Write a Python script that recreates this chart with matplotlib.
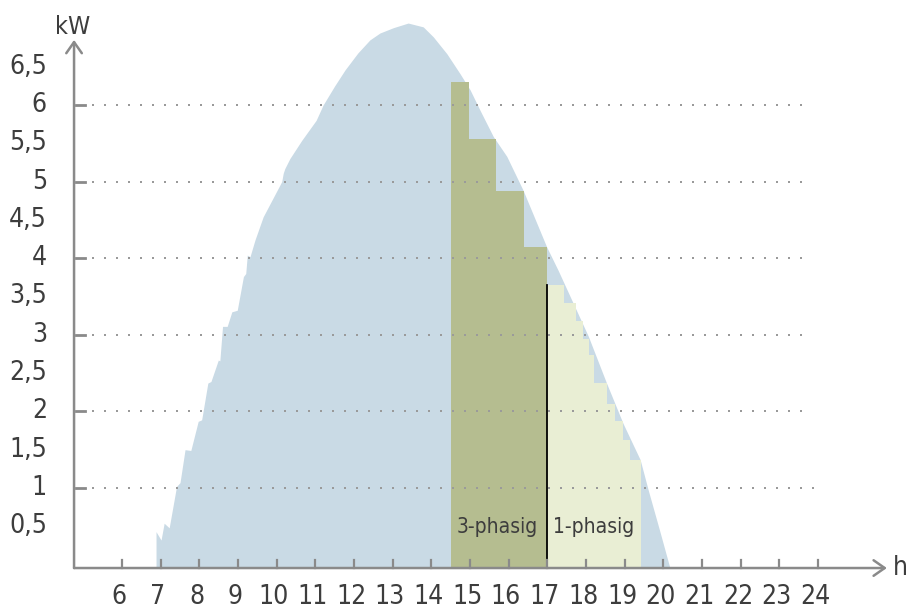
import matplotlib
matplotlib.use("Agg")
import matplotlib.pyplot as plt
import numpy as np

# PV generation curve (h, kW)
pv_hours = [6.88, 6.88, 7.01, 7.09, 7.22, 7.41, 7.50, 7.63, 7.78, 7.97, 8.06, 8.22, 8.30,
            8.49, 8.53, 8.60, 8.72, 8.84, 8.98, 9.14, 9.20, 9.24, 9.31, 9.44, 9.65, 10.13,
            10.17, 10.21, 10.34, 10.65, 11.02, 11.20, 11.50, 11.77, 12.10, 12.41, 12.67,
            13.02, 13.40, 13.79, 14.05, 14.40, 14.74, 15.00, 15.26, 15.60, 15.95, 16.37,
            16.98, 17.28, 17.67, 18.06, 18.53, 18.96, 19.40, 19.61, 19.90, 20.17]
pv_kw = [-0.045, 0.43, 0.32, 0.54, 0.48, 1.02, 1.07, 1.50, 1.49, 1.87, 1.89, 2.37, 2.39,
         2.67, 2.66, 3.11, 3.11, 3.30, 3.32, 3.76, 3.80, 4.04, 4.02, 4.24, 4.54, 5.00,
         5.11, 5.17, 5.30, 5.54, 5.80, 6.00, 6.25, 6.46, 6.68, 6.85, 6.94,
         7.01, 7.07, 7.02, 6.89, 6.67, 6.41, 6.20, 5.93, 5.59, 5.33, 4.89,
         4.15, 3.84, 3.41, 2.98, 2.37, 1.84, 1.37, 0.97, 0.45, -0.045]

# 3-phase charging steps
three_edges = [14.50, 14.97, 15.66, 16.39, 17.00]
three_kw = [6.30, 5.56, 4.88, 4.14]

# 1-phase charging steps
one_edges = [17.00, 17.44, 17.73, 17.93, 18.08, 18.21, 18.55, 18.75, 18.96, 19.14, 19.41]
one_kw = [3.65, 3.41, 3.18, 2.95, 2.74, 2.37, 2.09, 1.87, 1.63, 1.37]

x_ticks = list(range(6, 25))
y_ticks = [0.5, 1, 1.5, 2, 2.5, 3, 3.5, 4, 4.5, 5, 5.5, 6, 6.5]
grid_levels = [1, 2, 3, 4, 5, 6]

FONT = ["DejaVu Sans"]
TXT = "#3d3d3d"
AXC = "#8a8a8a"
y0 = -0.045     # where the h axis sits
x0 = 4.76       # where the kW axis sits

fig = plt.figure(figsize=(9.12, 6.10), dpi=100)
ax = fig.add_axes([0, 0, 1, 1])
ax.set_xlim(2.845, 26.43)
ax.set_ylim(-0.593, 7.371)
ax.axis("off")

ax.fill_between(pv_hours, pv_kw, y0, color="#c9dae5", lw=0, zorder=1)
ax.stairs(three_kw, three_edges, baseline=y0, fill=True, color="#b5bd90", lw=0, zorder=2)
ax.stairs(one_kw, one_edges, baseline=y0, fill=True, color="#e9eed4", lw=0, zorder=2)
ax.plot([17.0, 17.0], [y0, one_kw[0]], color="black", lw=1.3, zorder=3)

# dotted grid
for lev in grid_levels:
    end = 23.9 if lev == 1 else 23.6
    xs = np.arange(5.255, end, 0.3103)
    ax.plot(xs, [lev] * len(xs), ls="none", marker="s", ms=1.6, mew=0,
            color="#9a9a9a", zorder=4)
    ax.plot([4.80, 5.04], [lev, lev], color=AXC, lw=2, zorder=4)

# axes with open arrow heads
arrow = dict(arrowstyle="->,head_length=0.4,head_width=0.28", color=AXC, lw=1.8,
             mutation_scale=20, shrinkA=0, shrinkB=0)
ax.annotate("", xy=(25.78, y0), xytext=(x0, y0), arrowprops=arrow, zorder=5)
ax.annotate("", xy=(x0, 6.85), xytext=(x0, y0), arrowprops=arrow, zorder=5)

big = dict(fontsize=19, color=TXT, family=FONT, stretch="condensed")
for t in x_ticks:
    ax.plot([t, t], [y0, y0 + 0.105], color=AXC, lw=1.6, zorder=5)
    ax.text(t - 0.07, -0.425, str(t), ha="center", va="center", **big)

for v in y_ticks:
    lab = f"{v:g}".replace(".", ",")
    ax.text(4.06, v, lab, ha="right", va="center", **big)

ax.text(4.72, 7.02, "kW", ha="center", va="center", fontsize=18, color=TXT,
        family=FONT, stretch="condensed")
ax.text(26.12, y0, "h", ha="center", va="center", **big)

small = dict(fontsize=15, color=TXT, family=FONT, stretch="condensed")
ax.text(15.71, 0.49, "3-phasig", ha="center", va="center", **small)
ax.text(18.20, 0.49, "1-phasig", ha="center", va="center", **small)

fig.savefig("out.png", dpi=100)
